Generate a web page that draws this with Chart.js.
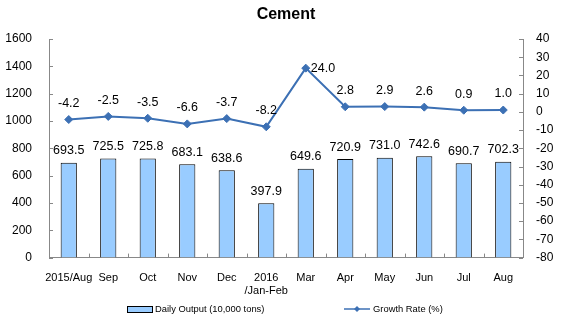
<!DOCTYPE html>
<html>
<head>
<meta charset="utf-8">
<script src="https://cdn.jsdelivr.net/npm/chart.js@4"></script>
<style>
  body { margin: 0; background: #fff; }
</style>
</head>
<body>
<canvas id="cement" width="562" height="322"></canvas>
<script>
// data
const months = ['2015/Aug', 'Sep', 'Oct', 'Nov', 'Dec', ['2016', '/Jan-Feb'], 'Mar', 'Apr', 'May', 'Jun', 'Jul', 'Aug'];
const dailyOutput = [693.5, 725.5, 725.8, 683.1, 638.6, 397.9, 649.6, 720.9, 731.0, 742.6, 690.7, 702.3];
const growthRate = [-4.2, -2.5, -3.5, -6.6, -3.7, -8.2, 24.0, 2.8, 2.9, 2.6, 0.9, 1.0];

const FONT = '"Liberation Sans", Arial, sans-serif';
const LINE_COLOR = '#3C70B4';
const BAR_COLOR = '#99CCFF';

// labels above bars and points, the 24.0 one sits right of its point
const valueLabels = {
  id: 'valueLabels',
  afterDatasetsDraw(chart) {
    const ctx = chart.ctx;
    ctx.save();
    ctx.font = '12.5px ' + FONT;
    ctx.fillStyle = '#000';
    ctx.textBaseline = 'middle';
    chart.getDatasetMeta(0).data.forEach((bar, i) => {
      ctx.textAlign = 'center';
      ctx.fillText(dailyOutput[i].toFixed(1), bar.x, bar.y - 12);
    });
    chart.getDatasetMeta(1).data.forEach((pt, i) => {
      const txt = growthRate[i].toFixed(1);
      if (i === 6) {
        ctx.textAlign = 'left';
        ctx.fillText(txt, pt.x + 5, pt.y);
      } else {
        ctx.textAlign = 'center';
        ctx.fillText(txt, pt.x, pt.y - 16);
      }
    });
    ctx.restore();
  }
};

// inward tick marks, title and legend drawn like the original
const extras = {
  id: 'extras',
  afterDraw(chart) {
    const ctx = chart.ctx;
    const area = chart.chartArea;
    const yl = chart.scales.y, yr = chart.scales.y1;
    ctx.save();
    ctx.strokeStyle = '#888';
    ctx.lineWidth = 1;
    ctx.beginPath();
    yl.ticks.forEach(t => {
      const py = Math.round(yl.getPixelForValue(t.value)) + 0.5;
      ctx.moveTo(area.left, py); ctx.lineTo(area.left + 4, py);
    });
    yr.ticks.forEach(t => {
      const py = Math.round(yr.getPixelForValue(t.value)) + 0.5;
      ctx.moveTo(area.right, py); ctx.lineTo(area.right - 4, py);
    });
    const step = (area.right - area.left) / months.length;
    for (let i = 1; i < months.length; i++) {
      const px = Math.round(area.left + i * step) + 0.5;
      ctx.moveTo(px, area.bottom); ctx.lineTo(px, area.bottom - 4);
    }
    ctx.stroke();

    // title
    ctx.fillStyle = '#000';
    ctx.font = 'bold 16px ' + FONT;
    ctx.textAlign = 'center';
    ctx.textBaseline = 'middle';
    ctx.fillText('Cement', (area.left + area.right) / 2, 15);

    // legend
    const ly = 309;
    ctx.font = '9.4px ' + FONT;
    ctx.textAlign = 'left';
    ctx.fillStyle = BAR_COLOR;
    ctx.fillRect(127, ly - 3, 25, 6);
    ctx.strokeStyle = '#000';
    ctx.strokeRect(127.5, ly - 2.5, 25, 6);
    ctx.fillStyle = '#000';
    ctx.fillText('Daily Output (10,000 tons)', 155, ly);

    ctx.strokeStyle = LINE_COLOR;
    ctx.lineWidth = 1.5;
    ctx.beginPath();
    ctx.moveTo(344, ly); ctx.lineTo(370, ly);
    ctx.stroke();
    ctx.fillStyle = LINE_COLOR;
    ctx.beginPath();
    ctx.moveTo(357, ly - 3); ctx.lineTo(360, ly); ctx.lineTo(357, ly + 3); ctx.lineTo(354, ly);
    ctx.closePath();
    ctx.fill();
    ctx.fillStyle = '#000';
    ctx.fillText('Growth Rate (%)', 373, ly);
    ctx.restore();
  }
};

const plain = v => String(v);

const ctx = document.getElementById('cement').getContext('2d');
const chart = new Chart(ctx, {
  type: 'bar',
  data: {
    labels: months,
    datasets: [{
      type: 'bar',
      label: 'Daily Output (10,000 tons)',
      data: dailyOutput,
      yAxisID: 'y',
      backgroundColor: BAR_COLOR,
      borderColor: '#000',
      borderWidth: 1,
      categoryPercentage: 1,
      barPercentage: 0.41,
      order: 1
    }, {
      type: 'line',
      label: 'Growth Rate (%)',
      data: growthRate,
      yAxisID: 'y1',
      borderColor: LINE_COLOR,
      backgroundColor: LINE_COLOR,
      borderWidth: 2,
      pointStyle: 'rectRot',
      pointRadius: 4,
      pointBorderWidth: 1,
      tension: 0,
      order: 0
    }]
  },
  options: {
    responsive: false,
    animation: false,
    layout: { autoPadding: false, padding: { top: 39, left: 5, right: 9, bottom: 10 } },
    plugins: {
      legend: { display: false },
      title: { display: false },
      tooltip: { enabled: false }
    },
    scales: {
      x: {
        offset: true,
        grid: { display: false, drawTicks: false },
        border: { display: true, color: '#888' },
        ticks: { color: '#000', font: { family: FONT, size: 11 }, padding: 14, maxRotation: 0, autoSkip: false }
      },
      y: {
        position: 'left',
        min: 0, max: 1600,
        grid: { display: false, drawTicks: false },
        border: { display: true, color: '#888' },
        ticks: { stepSize: 200, autoSkip: false, callback: plain, color: '#000', font: { family: FONT, size: 12 }, padding: 17 },
        afterFit: s => { s.width = 44; }
      },
      y1: {
        position: 'right',
        min: -80, max: 40,
        grid: { display: false, drawTicks: false },
        border: { display: true, color: '#888' },
        ticks: { stepSize: 10, autoSkip: false, callback: plain, color: '#000', font: { family: FONT, size: 12 }, padding: 13 },
        afterFit: s => { s.width = 30; }
      }
    }
  },
  plugins: [valueLabels, extras]
});
</script>
</body>
</html>
